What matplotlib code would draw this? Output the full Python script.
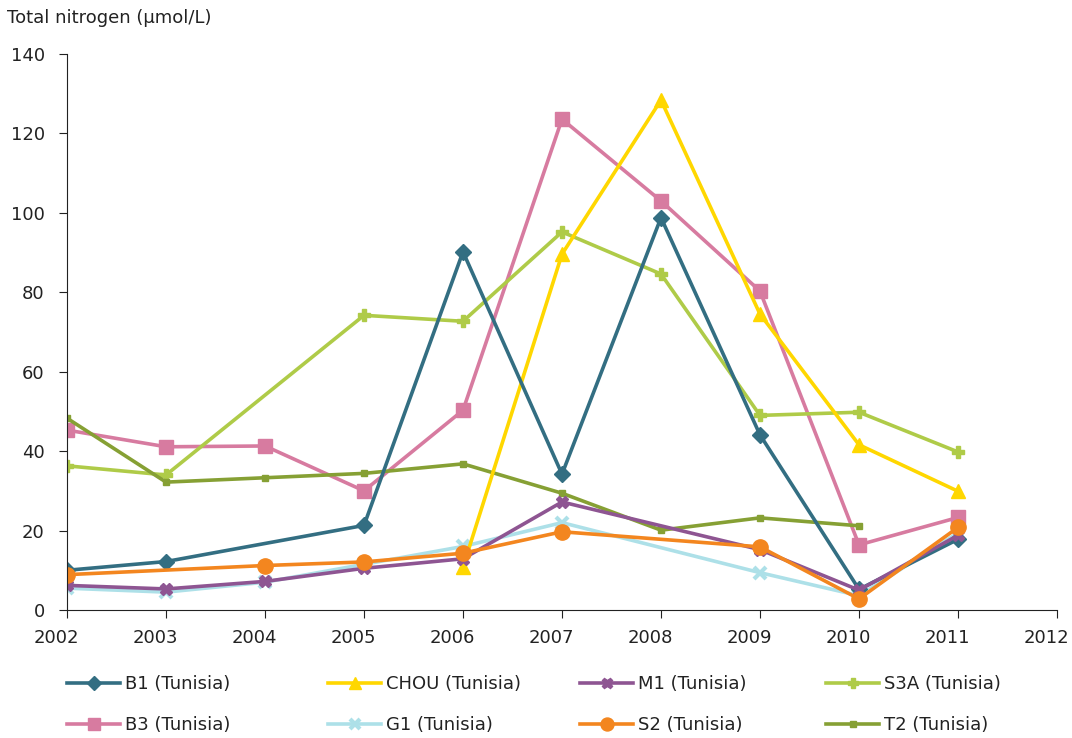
import numpy as np
import matplotlib
matplotlib.use("Agg")
import matplotlib.pyplot as plt
from matplotlib.transforms import ScaledTranslation

# Years on the x axis
years = [2002, 2003, 2004, 2005, 2006, 2007, 2008, 2009, 2010, 2011]

# Total nitrogen per station (None = no measurement)
b1 = [10.0, 12.2, None, 21.3, 90.2, 34.2, 98.8, 44.1, 5.2, 17.8]
chou = [None, None, None, None, 10.8, 89.6, 128.4, 74.5, 41.6, 29.9]
m1 = [6.2, 5.3, 7.2, 10.5, 12.9, 27.2, None, 15.2, 5.0, 18.8]
s3a = [36.3, 34.0, None, 74.2, 72.7, 95.2, 84.6, 49.0, 49.8, 39.8]
b3 = [45.3, 41.1, 41.3, 30.0, 50.3, 123.6, 103.0, 80.3, 16.4, 23.3]
g1 = [5.5, 4.5, 7.0, 11.5, 16.0, 22.0, None, 9.4, 3.6, 19.4]
s2 = [8.9, None, 11.2, 12.1, 14.3, 19.7, None, 15.9, 2.8, 20.8]
t2 = [48.3, 32.2, 33.3, 34.4, 36.8, 29.4, 20.1, 23.2, 21.2, None]

series = [
    ("B1 (Tunisia)", b1, "#336e82", "D", 8, 1),
    ("CHOU (Tunisia)", chou, "#ffd700", "^", 10, 1),
    ("M1 (Tunisia)", m1, "#8e5592", "X", 9, 1),
    ("S3A (Tunisia)", s3a, "#afcb48", "P", 8, 1),
    ("B3 (Tunisia)", b3, "#d77ba0", "s", 10, 1),
    ("G1 (Tunisia)", g1, "#ade0e8", "x", 9, 3),
    ("S2 (Tunisia)", s2, "#f3861f", "o", 11, 1),
    ("T2 (Tunisia)", t2, "#86a034", "s", 5, 1),
]

W, H = 1072, 738
fig = plt.figure(figsize=(W / 100, H / 100), dpi=100)
ax = fig.add_axes([67 / W, 1 - 610 / H, (1057 - 67) / W, (610 - 54) / H])

# draw order similar to the reference (G1 under the others)
draw_order = [5, 4, 3, 7, 1, 0, 2, 6]
handles = {}
for i in draw_order:
    name, vals, color, marker, ms, mew = series[i]
    x = [yr for yr, v in zip(years, vals) if v is not None]
    y = [v for v in vals if v is not None]
    h, = ax.plot(x, y, color=color, lw=2.6, marker=marker, ms=ms,
                 mew=mew, mec=color, mfc=color, label=name)
    handles[i] = h

ax.set_xlim(2002, 2012)
ax.set_ylim(0, 140)
ax.set_xticks(range(2002, 2013))
ax.set_yticks(range(0, 141, 20))
ax.spines["top"].set_visible(False)
ax.spines["right"].set_visible(False)
ax.spines["left"].set_color("#222222")
ax.spines["bottom"].set_color("#222222")
ax.tick_params(direction="out", length=6, labelsize=13, colors="#222222")
ax.tick_params(axis="x", pad=8)
ax.tick_params(axis="y", pad=10)

# x labels sit a little to the left of their ticks in the reference
shift = ScaledTranslation(-11 / 100, 0, fig.dpi_scale_trans)
for lab in ax.get_xticklabels():
    lab.set_transform(lab.get_transform() + shift)

fig.text(7 / W, 1 - 18 / H, "Total nitrogen (μmol/L)", fontsize=13, color="#222222",
         ha="left", va="center")

# legend laid out as a fixed 4x2 grid: one small legend per column
col_x = [67, 328, 580, 826]
columns = [[0, 4], [1, 5], [2, 6], [3, 7]]
for cx, idx in zip(col_x, columns):
    leg = fig.legend([handles[i] for i in idx], [series[i][0] for i in idx],
                     loc="upper left", bbox_to_anchor=(cx / W, 1 - 675 / H),
                     frameon=False, fontsize=13, handlelength=2.95, handletextpad=0.25,
                     labelspacing=1.3, borderpad=0, borderaxespad=0, markerscale=0.85)
    for t in leg.get_texts():
        t.set_color("#222222")

fig.savefig("out.png", dpi=100)
